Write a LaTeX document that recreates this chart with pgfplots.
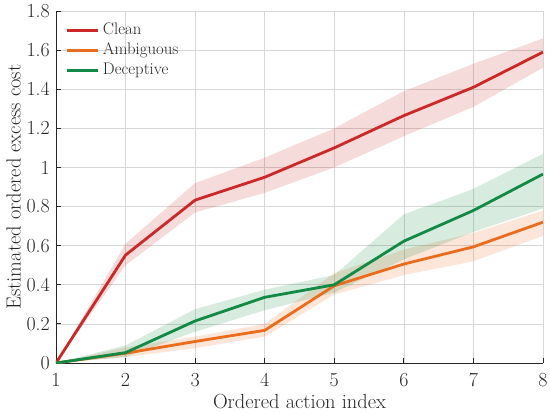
\documentclass[border=0pt]{standalone}
\usepackage{fontspec}
\usepackage{pgfplots}
\pgfplotsset{compat=1.18}
\usetikzlibrary{calc}
\definecolor{cRed}{RGB}{204,40,40}
\definecolor{cOrg}{RGB}{235,108,28}
\definecolor{cGrn}{RGB}{16,138,68}
\definecolor{axc}{RGB}{38,38,38}
\begin{document}
\begin{tikzpicture}
\begin{axis}[name=ax, scale only axis, width=487bp, height=352bp,
  xmin=1, xmax=8, ymin=0, ymax=1.8,
  xtick={1,2,3,4,5,6,7,8},
  ytick={0,0.2,0.4,0.6,0.8,1,1.2,1.4,1.6,1.8},
  axis x line*=bottom, axis y line*=left,
  axis line style={axc, line width=0.8pt, -},
  tick align=inside, major tick length=5bp,
  tick style={axc, line width=0.8pt},
  grid=major, major grid style={black!16, line width=0.7pt},
  /pgf/number format/assume math mode=true,
  ticklabel style={font=\fontsize{20}{20}\selectfont, text=axc},
  xticklabel style={inner sep=0pt, anchor=north, yshift=-10bp},
  yticklabel style={inner sep=0pt, anchor=east, xshift=-6bp},
  xlabel={Ordered action index},
  ylabel={Estimated ordered excess cost},
  label style={font=\fontsize{20.5}{22}\selectfont, text=axc},
  xlabel style={at={(axis description cs:0.5,0)}, anchor=north, inner sep=0pt, yshift=-31bp},
  ylabel style={at={(axis description cs:0,0.5)}, anchor=south, inner sep=0pt, yshift=35bp},
  legend style={at={(axis description cs:0,1)}, anchor=north west, xshift=9bp, yshift=-10bp,
    draw=none, fill=none, inner sep=0pt, row sep=1.5bp, font=\fontsize{16.8}{17}\selectfont,
    nodes={inner sep=1.5bp, text height=12bp, text depth=3.5bp, text=axc}},
  legend cell align=left,
  legend image code/.code={\draw[#1, line width=2.8bp] (0bp,0bp) -- (31bp,0bp); \path (33.5bp,0bp);},
]
% bands
\addplot[forget plot, draw=none, fill=cRed, fill opacity=0.17] coordinates {
 (1,0) (2,0.61) (3,0.92) (4,1.05) (5,1.20) (6,1.39) (7,1.53) (8,1.66)
 (8,1.51) (7,1.31) (6,1.16) (5,1.00) (4,0.87) (3,0.77) (2,0.50) (1,0)};
\addplot[forget plot, draw=none, fill=cOrg, fill opacity=0.17] coordinates {
 (1,0) (2,0.08) (3,0.135) (4,0.20) (5,0.46) (6,0.58) (7,0.665) (8,0.78)
 (8,0.65) (7,0.52) (6,0.45) (5,0.35) (4,0.135) (3,0.076) (2,0.03) (1,0)};
\addplot[forget plot, draw=none, fill=cGrn, fill opacity=0.17] coordinates {
 (1,0) (2,0.09) (3,0.275) (4,0.375) (5,0.45) (6,0.76) (7,0.89) (8,1.07)
 (8,0.79) (7,0.67) (6,0.53) (5,0.36) (4,0.27) (3,0.16) (2,0.03) (1,0)};
% means
\addplot[cRed, line width=2.8bp] coordinates {
 (1,0) (2,0.552) (3,0.833) (4,0.95) (5,1.10) (6,1.265) (7,1.41) (8,1.59)};
\addlegendentry{Clean}
\addplot[cOrg, line width=2.8bp] coordinates {
 (1,0) (2,0.05) (3,0.11) (4,0.167) (5,0.395) (6,0.506) (7,0.594) (8,0.72)};
\addlegendentry{Ambiguous}
\addplot[cGrn, line width=2.8bp] coordinates {
 (1,0) (2,0.053) (3,0.215) (4,0.336) (5,0.40) (6,0.623) (7,0.78) (8,0.966)};
\addlegendentry{Deceptive}
\end{axis}
\pgfresetboundingbox
\path ($(ax.south west)+(-56bp,-50bp)$) rectangle ($(ax.north east)+(7bp,11bp)$);
\end{tikzpicture}
\end{document}
